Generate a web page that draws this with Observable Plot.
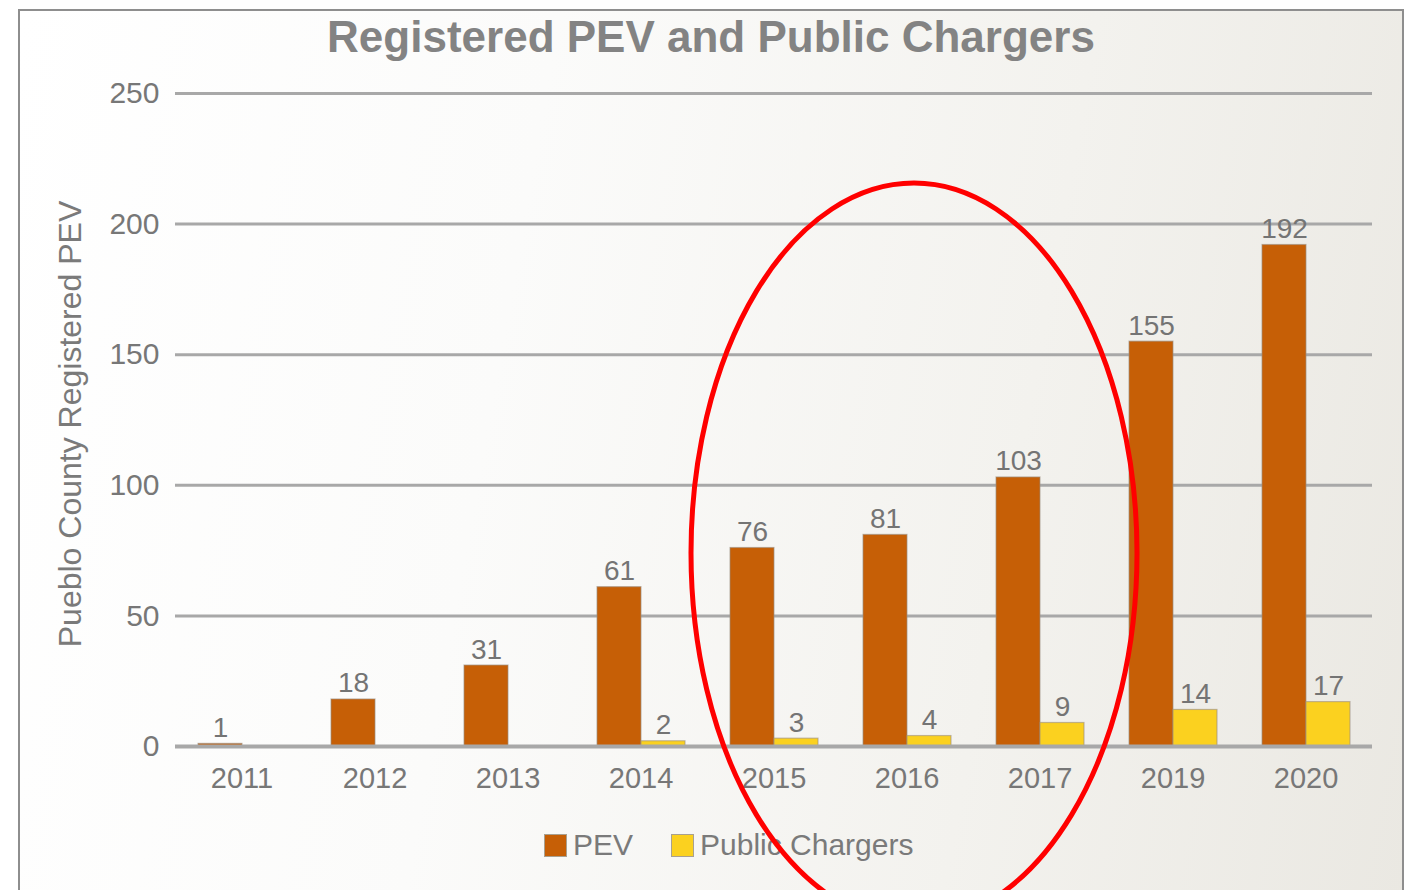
<!DOCTYPE html>
<html>
<head>
<meta charset="utf-8">
<script src="https://cdn.jsdelivr.net/npm/d3@7"></script>
<script src="https://cdn.jsdelivr.net/npm/@observablehq/plot@0.6"></script>
<style>
  html, body { margin: 0; padding: 0; background: #ffffff; }
  #page { position: relative; width: 1404px; height: 890px; overflow: hidden; font-family: "Liberation Sans", Arial, sans-serif; }
  #panel { position: absolute; left: 18px; top: 9px; width: 1382px; height: 900px;
    border: 2px solid #8e8e8e; border-bottom: none;
    background: linear-gradient(100deg, #ffffff 0%, #fbfbfa 35%, #f3f2ee 70%, #eae8e2 100%); }
  #title { position: absolute; left: 18px; width: 1386px; top: 12px; text-align: center;
    font-size: 44px; font-weight: bold; color: #838383; }
  #ylabel { position: absolute; left: 70px; top: 424px; transform: translate(-50%, -50%) rotate(-90deg);
    white-space: nowrap; font-size: 32px; color: #7a7a7a; }
  #chart { position: absolute; left: 0; top: 60px; }
  #legend { position: absolute; top: 828px; left: 544px; display: flex; align-items: center;
    font-size: 30px; color: #7a7a7a; }
  .sw { width: 23px; height: 23px; box-sizing: border-box; border: 1px solid #a8a090; margin-right: 6px; }
  .item { display: flex; align-items: center; margin-right: 38px; }
  #ring { position: absolute; left: 0; top: 0; pointer-events: none; }
</style>
</head>
<body>
<div id="page">
  <div id="panel"></div>
  <div id="title">Registered PEV and Public Chargers</div>
  <div id="ylabel">Pueblo County Registered PEV</div>
  <div id="chart"></div>
  <div id="legend"></div>
  <svg id="ring" width="1404" height="890"><ellipse cx="914" cy="553" rx="223" ry="370" fill="none" stroke="#ff0000" stroke-width="5"/></svg>
</div>
<script>
const years = ["2011", "2012", "2013", "2014", "2015", "2016", "2017", "2019", "2020"];
const pev = [1, 18, 31, 61, 76, 81, 103, 155, 192];
const chargers = [null, null, null, 2, 3, 4, 9, 14, 17];
const seriesNames = ["PEV", "Public Chargers"];
const seriesColors = ["#c65f06", "#fbd11f"];
const yTicks = [0, 50, 100, 150, 200, 250];

const data = [];
years.forEach((yr, i) => {
  data.push({year: yr, series: seriesNames[0], value: pev[i]});
  if (chargers[i] != null) data.push({year: yr, series: seriesNames[1], value: chargers[i]});
});

const chart = Plot.plot({
  width: 1404,
  height: 746,
  marginTop: 33,
  marginBottom: 60,
  marginLeft: 173,
  marginRight: 31,
  style: {background: "transparent", fontFamily: "Liberation Sans, Arial, sans-serif"},
  fx: {domain: years, padding: 0, label: null},
  x: {domain: seriesNames, paddingInner: 0, paddingOuter: 0.5, axis: null},
  y: {domain: [0, 250], ticks: yTicks, label: null},
  color: {domain: seriesNames, range: seriesColors},
  marks: [
    Plot.gridY(yTicks.filter(d => d > 0), {stroke: "#a8a8a8", strokeOpacity: 1, strokeWidth: 3}),
    Plot.barY(data, {fx: "year", x: "series", y: "value", fill: "series", stroke: "#9c8f80", strokeOpacity: 0.6, strokeWidth: 1.2}),
    Plot.ruleY([0], {stroke: "#a8a8a8", strokeWidth: 4}),
    Plot.text(data, {fx: "year", x: "series", y: "value", text: d => String(d.value), lineAnchor: "bottom", dy: -7, fontSize: 28, fill: "#747474"}),
    Plot.axisY(yTicks, {tickSize: 0, tickPadding: 16, fontSize: 30, color: "#777777", label: null}),
    Plot.axisFx({anchor: "bottom", tickSize: 0, tickPadding: 21, fontSize: 29, color: "#777777", label: null})
  ]
});
document.getElementById("chart").appendChild(chart);

const legend = document.getElementById("legend");
seriesNames.forEach((s, i) => {
  const item = document.createElement("div");
  item.className = "item";
  const sw = document.createElement("div");
  sw.className = "sw";
  sw.style.background = seriesColors[i];
  const lab = document.createElement("span");
  lab.textContent = s;
  item.appendChild(sw);
  item.appendChild(lab);
  legend.appendChild(item);
});
</script>
</body>
</html>
